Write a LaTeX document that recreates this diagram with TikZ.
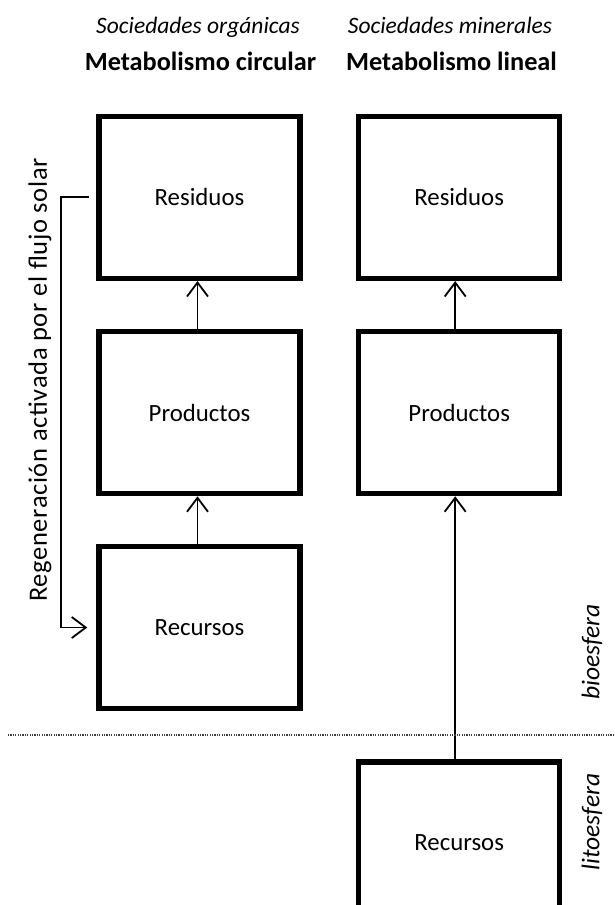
\documentclass[tikz,border=0pt]{standalone}
\usepackage{fontspec}
\setmainfont{Carlito}
\newfontfamily\regfont[LetterSpace=2.5]{Carlito}
\usetikzlibrary{arrows.meta}
\begin{document}
\begin{tikzpicture}[x=1pt,y=-1pt,
  box/.style={draw=black, line width=5.5pt, minimum width=201pt, minimum height=162pt, inner sep=0pt,
    font=\fontsize{24.8}{29}\selectfont},
  link/.style={draw=black, line width=1.8pt, -{Straight Barb[length=14pt,width=21pt,line width=1.8pt]}},
  hdr/.style={font=\fontsize{23.5}{28}\selectfont\itshape, inner sep=0pt, anchor=base},
  ttl/.style={font=\fontsize{26.3}{31}\selectfont\bfseries, inner sep=0pt, anchor=base},
  side/.style={font=\fontsize{25.5}{30}\selectfont\itshape, inner sep=0pt, rotate=90}]
\path[use as bounding box] (0,0) rectangle (614,905);
\clip (0,0) rectangle (614,905);
\fill[white] (0,0) rectangle (614,905);

% headers
\node[hdr] (h1) at (198,33) {Sociedades orgánicas};
\node[hdr] (h2) at (450,33) {Sociedades minerales};
\node[ttl] (t1) at (200.5,70) {Metabolismo circular};
\node[ttl] (t2) at (451.5,70) {Metabolismo lineal};

% boxes
\node[box] (L1) at (199.5,197.3) {Residuos};
\node[box] (L2) at (199.5,412.5) {Productos};
\node[box] (L3) at (199.5,627.5) {Recursos};
\node[box] (R1) at (459.2,197.3) {Residuos};
\node[box] (R2) at (459.2,412.5) {Productos};
\node[box] (R3) at (459.2,843) {Recursos};

% arrows
\draw[link] ([xshift=-2pt]L2.north) -- ([xshift=-2pt]L1.south);
\draw[link] ([xshift=-2pt]L3.north) -- ([xshift=-2pt]L2.south);
\draw[link] ([xshift=-4pt]R2.north) -- ([xshift=-4pt]R1.south);
\draw[link] ([xshift=-4pt]R3.north) -- ([xshift=-4pt]R2.south);

% feedback loop
\draw[link] ([xshift=-7.5pt]L1.west) -- ++(-27.5pt,0) |- ([xshift=-9pt]L3.west);
\node[font=\regfont\fontsize{26.5}{32}\selectfont, inner sep=0pt, rotate=90] (reg) at (40,380) {Regeneración activada por el flujo solar};

% boundary
\draw[black!75, line width=2pt, dash pattern=on 1.2pt off 1.2pt] (8,735) coordinate (d0) -- (614,735) coordinate (d1);
\node[side] (bio) at (592,652) {bioesfera};
\node[side] (lit) at (592,822) {litoesfera};
\end{tikzpicture}
\end{document}
